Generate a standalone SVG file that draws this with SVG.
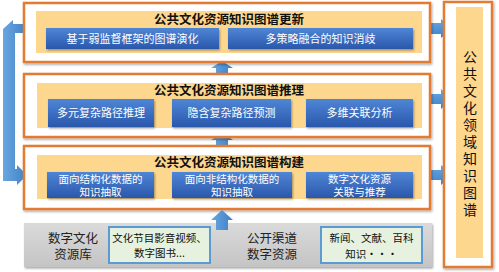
<svg xmlns="http://www.w3.org/2000/svg" width="499" height="272" viewBox="0 0 499 272">
<defs>
<linearGradient id="btn" x1="0" y1="0" x2="0" y2="1"><stop offset="0" stop-color="#4F86D6"/><stop offset="1" stop-color="#2A57AB"/></linearGradient>
<linearGradient id="arrH" x1="0" y1="0" x2="0" y2="1"><stop offset="0" stop-color="#6AA6E0"/><stop offset="1" stop-color="#3F80C8"/></linearGradient>
<linearGradient id="arrV" x1="0" y1="0" x2="1" y2="0"><stop offset="0" stop-color="#6AA6E0"/><stop offset="1" stop-color="#3F80C8"/></linearGradient>
<linearGradient id="gray" x1="0" y1="0" x2="0" y2="1"><stop offset="0" stop-color="#DADADA"/><stop offset="1" stop-color="#C4C4C4"/></linearGradient>
<filter id="sh" x="-5%" y="-10%" width="112%" height="130%"><feDropShadow dx="1" dy="1.5" stdDeviation="1" flood-color="#000" flood-opacity="0.35"/></filter>
</defs>
<style>
.outer{fill:#fff;stroke:#E37B33;stroke-width:2.5;filter:url(#sh)}
.yel{fill:#FDD78E}
.btn{fill:url(#btn);filter:url(#sh)}
.title{font-family:"Noto Sans CJK SC","Noto Sans",sans-serif;font-size:12.5px;font-weight:bold;fill:#111;text-anchor:middle}
.bt{font-family:"Noto Sans CJK SC","Noto Sans",sans-serif;font-size:11px;fill:#fff;text-anchor:middle}
.bt2{font-family:"Noto Sans CJK SC","Noto Sans",sans-serif;font-size:10.5px;fill:#fff;text-anchor:middle}
.gt{font-family:"Noto Sans CJK SC","Noto Sans",sans-serif;font-size:12.5px;fill:#222;text-anchor:middle}
.grn{fill:#E6F2DF;stroke:#5B9BD5;stroke-width:2}
.st{font-family:"Noto Sans CJK SC","Noto Sans",sans-serif;font-size:10.5px;fill:#111;text-anchor:middle}
.vt{font-family:"Noto Sans CJK SC","Noto Sans",sans-serif;font-size:14px;fill:#111;writing-mode:vertical-rl;letter-spacing:3px}
.ah{fill:url(#arrH)}
.av{fill:url(#arrV)}
</style>

<g id="connectors">
<polygon class="av" points="24,24 13,24 13,20 3,29 3,181 17,181 17,185 27,175 17,165 17,169 15,169 15,33 24,33"/>
<polygon class="ah" points="430,23 441,23 441,19 452,28.5 441,38 441,34 430,34"/>
<polygon class="ah" points="430,94 441,94 441,89 452,99 441,109 441,104 430,104"/>
<polygon class="ah" points="430,170 441,170 441,165 452,175 441,185 441,180 430,180"/>
<polygon class="av" points="216,74 216,68 211,68 222,61 233,68 228,68 228,74"/>
<polygon class="av" points="216,146 216,140 211,140 222,133 233,140 228,140 228,146"/>
</g>

<g id="update">
<rect class="outer" x="24" y="3" width="406" height="59"/>
<rect class="yel" x="36" y="11" width="386" height="42"/>
<text class="title" x="229" y="23.5">公共文化资源知识图谱更新</text>
<rect class="btn" x="46" y="28" width="173" height="21"/>
<text class="bt" x="132.5" y="42.5">基于弱监督框架的图谱演化</text>
<rect class="btn" x="228" y="28" width="185" height="21"/>
<text class="bt" x="320.5" y="42.5">多策略融合的知识消歧</text>
</g>

<g id="reasoning">
<rect class="outer" x="24" y="74" width="406" height="63"/>
<rect class="yel" x="37" y="83" width="385" height="45"/>
<text class="title" x="229" y="95">公共文化资源知识图谱推理</text>
<rect class="btn" x="48" y="99" width="106" height="28"/>
<text class="bt" x="101" y="117">多元复杂路径推理</text>
<rect class="btn" x="172" y="99" width="119" height="28"/>
<text class="bt" x="231.5" y="117">隐含复杂路径预测</text>
<rect class="btn" x="306" y="99" width="107" height="28"/>
<text class="bt" x="359.5" y="117">多维关联分析</text>
</g>

<g id="construction">
<rect class="outer" x="24" y="146" width="406" height="63"/>
<rect class="yel" x="37" y="155" width="385" height="44"/>
<text class="title" x="229" y="167">公共文化资源知识图谱构建</text>
<rect class="btn" x="47" y="172" width="107" height="26"/>
<text class="bt2" x="100.5" y="183">面向结构化数据的</text>
<text class="bt2" x="100.5" y="196">知识抽取</text>
<rect class="btn" x="172" y="172" width="120" height="26"/>
<text class="bt2" x="232" y="183">面向非结构化数据的</text>
<text class="bt2" x="232" y="196">知识抽取</text>
<rect class="btn" x="306" y="172" width="107" height="26"/>
<text class="bt2" x="359.5" y="183">数字文化资源</text>
<text class="bt2" x="359.5" y="196">关联与推荐</text>
</g>

<g id="sources">
<rect x="24" y="223" width="408" height="44" fill="url(#gray)" filter="url(#sh)"/>
<text class="gt" x="73" y="243">数字文化</text>
<text class="gt" x="73" y="259">资源库</text>
<rect class="grn" x="109" y="227" width="101" height="36"/>
<text class="st" x="159.5" y="242">文化节目影音视频、</text>
<text class="st" x="159.5" y="257">数字图书...</text>
<text class="gt" x="272" y="243">公开渠道</text>
<text class="gt" x="272" y="259">数字资源</text>
<rect class="grn" x="321" y="227" width="101" height="36"/>
<text class="st" x="371.5" y="242">新闻、文献、百科</text>
<text class="st" x="371.5" y="258">知识···</text>
</g>

<g id="arrow-up-sources">
<polygon class="av" points="216,230 216,220 211,220 222,210 233,220 228,220 228,230"/>
</g>

<g id="kg">
<rect class="outer" x="444" y="2" width="48" height="265"/>
<rect class="yel" x="456" y="7" width="27" height="251"/>
<text class="vt" x="470" y="50">公共文化领域知识图谱</text>
</g>
</svg>
